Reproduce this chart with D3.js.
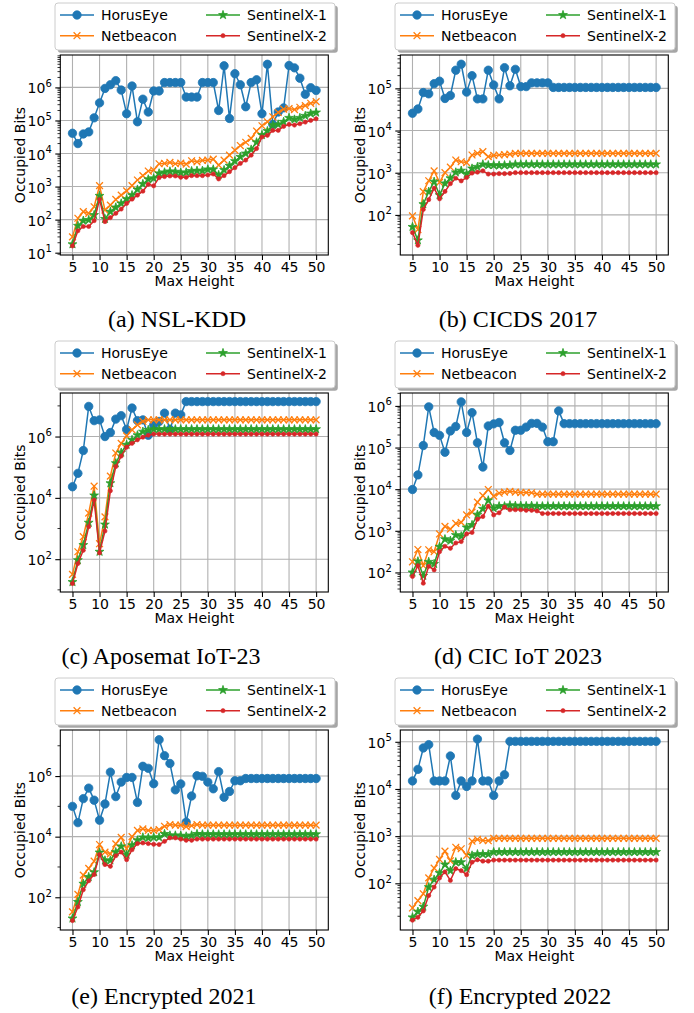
<!DOCTYPE html>
<html><head><meta charset="utf-8">
<script src="https://cdn.jsdelivr.net/npm/d3@7/dist/d3.min.js"></script>
<style>
html,body{margin:0;padding:0;background:#fff;}
svg{display:block;}
</style></head>
<body>
<svg id="chart" width="694" height="1013"></svg>
<script>
// ---------------- data ----------------
const maxHeight = d3.range(5, 51);            // x values 5..50
const seriesNames = ["HorusEye", "Netbeacon", "SentinelX-1", "SentinelX-2"];
const panelTitles = ["(a) NSL-KDD", "(b) CICDS 2017", "(c) Aposemat IoT-23",
                     "(d) CIC IoT 2023", "(e) Encrypted 2021", "(f) Encrypted 2022"];
const xTicks = [5, 10, 15, 20, 25, 30, 35, 40, 45, 50];
const yTickExps = [[1,2,3,4,5,6],[2,3,4,5],[2,4,6],[2,3,4,5,6],[2,4,6],[2,3,4,5]];
const yDomainExps = [[0.93,6.98],[1.05,5.79],[0.93,7.42],[1.53,6.31],[0.92,7.52],[1.01,5.25]];

// (a) NSL-KDD
const nslHorus = [41000,20000,39000,45000,120000,340000,930000,1200000,1600000,830000,
  160000,1100000,91000,440000,180000,780000,780000,1400000,1400000,1400000,
  1400000,510000,510000,510000,1400000,1400000,1400000,200000,4500000,115000,
  2600000,1200000,260000,1400000,1700000,160000,5000000,76000,180000,240000,
  4600000,3900000,1900000,620000,980000,810000];
const nslNet = [30,110,174,155,245,1070,195,275,407,550,
  741,1070,1580,2140,2950,3160,4900,5010,5370,4900,
  5130,4790,6030,5620,6170,6310,6760,4470,6310,8910,
  12600,17400,21900,28800,47900,69200,91200,129000,174000,219000,
  229000,214000,251000,282000,331000,372000];
const nslS1 = [18,65,93,98,138,525,105,174,234,309,
  417,550,813,1200,1660,1780,2510,2690,2880,2820,
  2630,2690,2950,3020,3020,3310,3310,2240,3160,4270,
  5890,7940,10000,13200,21900,36300,47900,72400,75900,91200,
  120000,107000,120000,138000,162000,174000];
const nslS2 = [16,46,62,62,93,407,87,115,155,209,
  309,417,550,724,1170,1050,1860,2000,2090,2090,
  1910,1910,2140,2140,2140,2240,2400,1700,2140,2820,
  3720,5010,6310,8910,14100,31600,35500,50100,50100,66100,
  75900,72400,79400,89100,100000,112000];

// (b) CICDS 2017
const cicHorus = [25700,32400,79400,74100,129000,148000,57500,67600,269000,372000,
  81300,200000,56200,56200,269000,120000,56200,309000,115000,282000,
  110000,110000,135000,135000,135000,135000,105000,105000,105000,105000,
  105000,105000,105000,105000,105000,105000,105000,105000,105000,105000,
  105000,105000,105000,105000,105000,105000];
const cicNet = [95,45,355,645,1100,590,1000,1350,2000,1820,
  1740,2630,2880,3160,2400,2570,2630,2690,2750,2880,
  2880,2880,2880,2880,2880,2880,2880,2880,2880,2880,
  2880,2880,2880,2880,2880,2880,2880,2880,2880,2880,
  2880,2880,2880,2880,2880,2880];
const cicS1 = [52,25,180,355,615,295,560,740,1020,1120,
  940,1260,1380,1580,1510,1510,1480,1510,1510,1580,
  1580,1580,1580,1580,1580,1580,1580,1580,1580,1580,
  1580,1580,1580,1580,1580,1580,1580,1580,1580,1580,
  1580,1580,1580,1580,1580,1580];
const cicS2 = [38,19,135,230,430,240,360,550,740,640,
  770,980,1030,1110,930,930,950,950,960,1000,
  1000,1000,1000,1000,1000,1000,1000,1000,1000,1000,
  1000,1000,1000,1000,1000,1000,1000,1000,1000,1000,
  1000,1000,1000,1000,1000,1000];

// (c) Aposemat IoT-23
const apoHorus = [23000,63000,350000,9600000,3300000,3500000,1000000,1350000,3700000,4800000,
  1700000,8500000,3300000,3500000,1100000,2400000,3100000,5800000,1700000,5800000,
  5100000,13800000,13800000,13800000,13800000,13800000,13800000,13800000,13800000,13800000,
  13800000,13800000,13800000,13800000,13800000,13800000,13800000,13800000,13800000,13800000,
  13800000,13800000,13800000,13800000,13800000,13800000];
const apoNet = [32,175,540,3200,24000,320,2400,51000,290000,600000,
  1050000,1650000,2400000,3100000,3500000,3500000,3500000,3500000,3500000,3500000,
  3500000,3500000,3500000,3500000,3500000,3500000,3500000,3500000,3500000,3500000,
  3500000,3500000,3500000,3500000,3500000,3500000,3500000,3500000,3500000,3500000,
  3500000,3500000,3500000,3500000,3500000,3500000];
const apoS1 = [18,93,290,1550,12000,175,1350,30000,135000,300000,
  540000,780000,1100000,1450000,1650000,1740000,1740000,1740000,1740000,1740000,
  1740000,1740000,1740000,1740000,1740000,1740000,1740000,1740000,1740000,1740000,
  1740000,1740000,1740000,1740000,1740000,1740000,1740000,1740000,1740000,1740000,
  1740000,1740000,1740000,1740000,1740000,1740000];
const apoS2 = [16,72,195,1150,8500,160,830,17000,105000,230000,
  450000,600000,780000,950000,1100000,1200000,1200000,1200000,1200000,1200000,
  1200000,1200000,1200000,1200000,1200000,1200000,1200000,1200000,1200000,1200000,
  1200000,1200000,1200000,1200000,1200000,1200000,1200000,1200000,1200000,1200000,
  1200000,1200000,1200000,1200000,1200000,1200000];

// (d) CIC IoT 2023
const iotHorus = [9800,22000,112000,950000,230000,196000,77000,250000,320000,1250000,
  230000,690000,130000,34000,330000,370000,400000,130000,85000,260000,
  260000,310000,380000,380000,310000,138000,138000,760000,375000,375000,
  375000,375000,375000,375000,375000,375000,375000,375000,375000,375000,
  375000,375000,375000,375000,375000,375000];
const iotNet = [180,355,145,350,315,840,1280,1100,1500,1590,
  2400,2800,4900,7000,9800,6800,8000,8500,8800,8500,
  8300,8300,8200,7600,7600,7600,7600,7600,7600,7600,
  7600,7600,7600,7600,7600,7600,7600,7600,7600,7600,
  7600,7600,7600,7600,7600,7600];
const iotS1 = [100,185,83,180,160,415,630,580,790,740,
  1200,1380,2450,3370,5400,3500,3900,3900,4100,4000,
  4000,3950,4000,3900,3900,3900,3900,3900,3900,3900,
  3900,3900,3900,3900,3900,3900,3900,3900,3900,3900,
  3900,3900,3900,3900,3900,3900];
const iotS2 = [80,145,55,140,115,315,425,380,510,550,
  840,910,1900,2200,3900,2400,2700,3700,3200,3200,
  3200,3100,3100,3000,2600,2600,2600,2600,2600,2600,
  2600,2600,2600,2600,2600,2600,2600,2600,2600,2600,
  2600,2600,2600,2600,2600,2600];

// (e) Encrypted 2021
const enc21Horus = [100000,29000,180000,400000,160000,35000,120000,1350000,210000,630000,
  900000,900000,135000,2100000,1800000,560000,15800000,4700000,2600000,350000,
  550000,30000,220000,1020000,980000,630000,380000,1400000,200000,310000,
  700000,700000,830000,830000,830000,830000,830000,830000,830000,830000,
  830000,830000,830000,830000,830000,830000];
const enc21Net = [33,125,540,900,1550,5500,3100,2700,5800,9500,
  4000,10000,16000,18000,16000,16000,17000,22000,25000,24000,
  24000,21500,23000,25000,24000,24000,24000,24000,24000,24000,
  24000,24000,24000,24000,24000,24000,24000,24000,24000,24000,
  24000,24000,24000,24000,24000,24000];
const enc21S1 = [20,70,280,470,670,3000,1650,1650,3100,4800,
  2550,5200,7600,9500,9100,9500,9500,12300,11000,11000,
  10800,10200,11000,12300,12000,12000,12000,12000,12000,12000,
  12000,12000,12000,12000,12000,12000,12000,12000,12000,12000,
  12000,12000,12000,12000,12000,12000];
const enc21S2 = [17,48,178,350,560,2550,1200,1050,2350,3100,
  1740,3700,5900,6200,5900,5600,5500,7000,9100,9100,
  8300,7600,7600,8300,8300,8300,8300,8300,8300,8300,
  8300,8300,8300,8300,8300,8300,8300,8300,8300,8300,
  8300,8300,8300,8300,8300,8300];

// (f) Encrypted 2022
const enc22Horus = [14800,26000,74000,87000,14800,14800,14800,50000,7300,14800,
  11300,14800,114000,14800,14800,7300,14800,20000,102000,102000,
  102000,102000,102000,102000,102000,102000,102000,102000,102000,102000,
  102000,102000,102000,102000,102000,102000,102000,102000,102000,102000,
  102000,102000,102000,102000,102000,102000];
const enc22Net = [30,43,60,130,210,320,480,300,580,540,
  390,780,850,810,800,900,900,900,900,900,
  900,900,900,900,900,900,900,900,900,900,
  900,900,900,900,900,900,900,900,900,900,
  900,900,900,900,900,900];
const enc22S1 = [19,25,32,83,120,165,250,185,280,280,
  205,390,415,415,415,460,460,460,460,460,
  460,460,460,460,460,460,460,460,460,460,
  460,460,460,460,460,460,460,460,460,460,
  460,460,460,460,460,460];
const enc22S2 = [16.5,19,26,55,83,130,175,115,205,185,
  152,280,315,295,295,310,310,310,310,310,
  310,310,310,310,310,310,310,310,310,310,
  310,310,310,310,310,310,310,310,310,310,
  310,310,310,310,310,310];

const panelSeries = [
  [nslHorus, nslNet, nslS1, nslS2],
  [cicHorus, cicNet, cicS1, cicS2],
  [apoHorus, apoNet, apoS1, apoS2],
  [iotHorus, iotNet, iotS1, iotS2],
  [enc21Horus, enc21Net, enc21S1, enc21S2],
  [enc22Horus, enc22Net, enc22S1, enc22S2]
];

// ---------------- layout / style ----------------
const colors = ["#1f77b4", "#ff7f0e", "#2ca02c", "#d62728"];
const FONT = "'DejaVu Sans', sans-serif";
const SERIF = "'Liberation Serif', 'Times New Roman', serif";
const colLeft = [60.3, 400.3];
const rowTop = [55, 393, 730];
const plotW = 268, plotH = [200, 199, 200];
const captionX = [177, 518, 161, 518, 164, 520];
const captionY = [327, 664, 1004];
const minorMode = ["all", "all", "odd", "all", "odd", "all"];

const svg = d3.select("#chart");
svg.append("rect").attr("width", 694).attr("height", 1013).attr("fill", "#fff");

function drawMarker(sel, k, cx, cy) {
  if (k === 0) {
    sel.append("circle").attr("cx", cx).attr("cy", cy).attr("r", 4.2)
      .attr("fill", colors[0]).attr("stroke", colors[0]).attr("stroke-width", 0.8);
  } else if (k === 1) {
    const s = 3.4;
    sel.append("path").attr("d", `M${cx - s},${cy - s}L${cx + s},${cy + s}M${cx - s},${cy + s}L${cx + s},${cy - s}`)
      .attr("stroke", colors[1]).attr("stroke-width", 1.3).attr("fill", "none");
  } else if (k === 2) {
    sel.append("path").attr("d", d3.symbol(d3.symbolStar, 24)())
      .attr("transform", `translate(${cx},${cy})`)
      .attr("fill", colors[2]).attr("stroke", colors[2]).attr("stroke-width", 0.8);
  } else {
    sel.append("circle").attr("cx", cx).attr("cy", cy).attr("r", 2.1)
      .attr("fill", colors[3]).attr("stroke", colors[3]).attr("stroke-width", 0.6);
  }
}

function drawPanel(i) {
  const col = i % 2, row = Math.floor(i / 2);
  const left = colLeft[col], top = rowTop[row], ph = plotH[row];
  const g = svg.append("g").attr("transform", `translate(${left},${top})`);
  const x = d3.scaleLinear().domain([2.75, 52.25]).range([0, plotW]);
  const [e0, e1] = yDomainExps[i];
  const y = d3.scaleLog().domain([Math.pow(10, e0), Math.pow(10, e1)]).range([ph, 0]);
  const majors = yTickExps[i].map(e => Math.pow(10, e));

  // grid
  const grid = g.append("g");
  grid.selectAll("line.gx").data(xTicks).join("line")
    .attr("x1", d => x(d)).attr("x2", d => x(d)).attr("y1", 0).attr("y2", ph)
    .attr("stroke", "#b0b0b0").attr("stroke-width", 1.1);
  grid.selectAll("line.gy").data(majors).join("line")
    .attr("x1", 0).attr("x2", plotW).attr("y1", d => y(d)).attr("y2", d => y(d))
    .attr("stroke", "#b0b0b0").attr("stroke-width", 1.1);

  // series
  const line = d3.line().x(d => x(d[0])).y(d => y(d[1]));
  panelSeries[i].forEach((arr, k) => {
    const pts = maxHeight.map((h, j) => [h, arr[j]]);
    const sg = g.append("g");
    sg.append("path").datum(pts).attr("d", line)
      .attr("fill", "none").attr("stroke", colors[k]).attr("stroke-width", 1.5)
      .attr("stroke-linejoin", "round");
    pts.forEach(p => drawMarker(sg, k, x(p[0]), y(p[1])));
  });

  // frame
  g.append("rect").attr("width", plotW).attr("height", ph)
    .attr("fill", "none").attr("stroke", "#000").attr("stroke-width", 1.1);

  // x axis
  const xa = g.append("g").attr("transform", `translate(0,${ph})`)
    .call(d3.axisBottom(x).tickValues(xTicks).tickSize(5).tickPadding(2).tickSizeOuter(0));
  xa.select(".domain").remove();
  xa.selectAll(".tick line").attr("stroke", "#000").attr("stroke-width", 1.1);
  xa.selectAll("text").attr("font-size", 14).attr("font-family", FONT).attr("fill", "#000");

  // y axis (major ticks)
  const ya = g.append("g")
    .call(d3.axisLeft(y).tickValues(majors).tickSize(5).tickFormat(() => ""));
  ya.select(".domain").remove();
  ya.selectAll(".tick line").attr("stroke", "#000").attr("stroke-width", 1.1);
  ya.selectAll(".tick text").remove();

  // minor ticks
  let minors = [];
  const lo = Math.floor(e0), hi = Math.ceil(e1);
  if (minorMode[i] === "all") {
    for (let n = lo; n <= hi; n++) for (let m = 2; m <= 9; m++) minors.push(m * Math.pow(10, n));
  } else {
    for (let n = lo; n <= hi; n++) if (!yTickExps[i].includes(n)) minors.push(Math.pow(10, n));
  }
  minors = minors.filter(v => v >= Math.pow(10, e0) && v <= Math.pow(10, e1));
  g.append("g").selectAll("line").data(minors).join("line")
    .attr("x1", 0).attr("x2", -2.8).attr("y1", d => y(d)).attr("y2", d => y(d))
    .attr("stroke", "#000").attr("stroke-width", 0.8);

  // y tick labels 10^n
  const yl = g.append("g").selectAll("text").data(yTickExps[i]).join("text")
    .attr("x", -8.5).attr("y", d => y(Math.pow(10, d)) + 6)
    .attr("text-anchor", "end").attr("font-family", FONT).attr("font-size", 14).attr("fill", "#000");
  yl.append("tspan").text("10");
  yl.append("tspan").attr("dy", -6.5).attr("font-size", 10).text(d => d);

  // axis titles
  g.append("text").attr("x", plotW / 2).attr("y", ph + 31).attr("text-anchor", "middle")
    .attr("font-family", FONT).attr("font-size", 14).attr("fill", "#000").text("Max Height");
  g.append("text").attr("transform", `translate(-35.3,${ph / 2}) rotate(-90)`)
    .attr("text-anchor", "middle").attr("font-family", FONT).attr("font-size", 14)
    .attr("fill", "#000").text("Occupied Bits");

  // legend
  const lx = left - 5.3, ly = top - 52, lw = 280, lh = 47;
  const lg = svg.append("g").attr("transform", `translate(${lx},${ly})`);
  lg.append("rect").attr("x", 2.8).attr("y", 2.8).attr("width", lw).attr("height", lh)
    .attr("rx", 3).attr("fill", "#4d4d4d").attr("opacity", 0.5);
  lg.append("rect").attr("width", lw).attr("height", lh).attr("rx", 3)
    .attr("fill", "#fff").attr("stroke", "#cccccc").attr("stroke-width", 1);
  const legPos = [[5, 12], [5, 32.7], [151, 12], [151, 32.7]];
  seriesNames.forEach((name, k) => {
    const [hx, hy] = legPos[k];
    lg.append("line").attr("x1", hx).attr("x2", hx + 34).attr("y1", hy).attr("y2", hy)
      .attr("stroke", colors[k]).attr("stroke-width", 1.5);
    drawMarker(lg, k, hx + 17, hy);
    lg.append("text").attr("x", hx + 41).attr("y", hy + 5).attr("font-family", FONT)
      .attr("font-size", 14).attr("fill", "#000").text(name);
  });

  // caption
  svg.append("text").attr("x", captionX[i]).attr("y", captionY[row]).attr("text-anchor", "middle")
    .attr("font-family", SERIF).attr("font-size", 24).attr("fill", "#000").text(panelTitles[i]);
}

for (let i = 0; i < 6; i++) drawPanel(i);
</script>
</body></html>
